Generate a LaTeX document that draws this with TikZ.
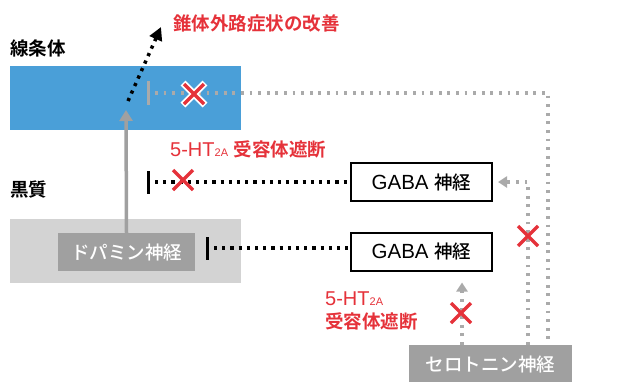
\documentclass[tikz,border=0pt]{standalone}
\usepackage{fontspec}
\setmainfont{Liberation Sans}
\newfontfamily\cjk{Noto Sans CJK JP}
\newfontfamily\cjkm{Noto Sans CJK JP Medium}
\newfontfamily\cjkb{Noto Sans CJK JP Bold}
\usetikzlibrary{arrows.meta}
\definecolor{striblue}{HTML}{4A9FD8}
\definecolor{snlgray}{HTML}{D3D3D3}
\definecolor{boxgray}{HTML}{A0A0A0}
\definecolor{dotgray}{HTML}{AAAAAA}
\definecolor{xred}{HTML}{E5323A}
\begin{document}
\begin{tikzpicture}[x=1pt,y=-1pt,
  region/.style={anchor=west, inner sep=0pt, font=\cjkb\fontsize{18.5}{20}\selectfont},
  redlabel/.style={anchor=west, inner sep=0pt, text=xred, align=left, font=\fontsize{18.5}{22.5}\selectfont},
  graybox/.style={fill=boxgray, text=white, inner sep=0pt, minimum height=38pt, font=\cjkm\fontsize{18.5}{20}\selectfont},
  gababox/.style={draw=black, line width=2pt, fill=white, minimum width=141pt, minimum height=38pt, inner sep=0pt},
  bdot/.style={line width=3.5pt, dash pattern=on 3.2pt off 5pt, black},
  gdot/.style={line width=3.5pt, dash pattern=on 2.8pt off 5.8pt, dotgray},
  blockbar/.style={line width=3pt},
  xmark/.pic={\draw[xred, line width=3.5pt] (-10,-10) -- (10,10) (-10,10) -- (10,-10);},
  xmarkw/.pic={\draw[white, line width=7pt] (-11,-11) -- (11,11) (-11,11) -- (11,-11);
               \draw[xred, line width=3.5pt] (-10,-10) -- (10,10) (-10,10) -- (10,-10);},
]
\useasboundingbox (0,0) rectangle (629,381);
% regions
\fill[striblue] (10,66) rectangle (241,130);
\fill[snlgray] (10,219) rectangle (241,283);
\node[region] (striatum) at (10,48) {線条体};
\node[region] (sn) at (10,190) {黒質};

% boxes
\node[graybox, minimum width=137pt] (da) at (126.5,252) {ドパミン神経};
\node[gababox] (g1) at (421.5,182) {\fontsize{20.5}{22}\selectfont GABA {\cjkm\fontsize{18.5}{20}\selectfont 神経}};
\node[gababox] (g2) at (421.5,251.5) {\fontsize{20.5}{22}\selectfont GABA {\cjkm\fontsize{18.5}{20}\selectfont 神経}};
\node[graybox, minimum width=163pt] (sero) at (490.5,364) {セロトニン神経};

% labels
\node[redlabel] (eps) at (173,23) {\cjkb 錐体外路症状の改善};
\node[redlabel] (blk1) at (170,149) {\fontsize{20}{22}\selectfont 5-HT{\fontsize{11}{12}\selectfont 2A} {\cjkb\fontsize{18.5}{20}\selectfont 受容体遮断}};
\node[redlabel] (blk2) at (325,311) {{\fontsize{20}{22}\selectfont 5-HT{\fontsize{11}{12}\selectfont 2A}}\\{\cjkb 受容体遮断}};

% coordinates
\coordinate (datip) at (126,110);
\coordinate (epsstart) at (128,101);
\coordinate (epstip) at (161,27);
\coordinate (gbar) at (148,93);
\coordinate (gstart) at (155,93);
\coordinate (outer) at (548,93);
\coordinate (inner) at (528,182);
\coordinate (g2in) at (462,300);
\coordinate (bar1) at (148,182);
\coordinate (b1start) at (155,182);
\coordinate (bar2) at (207,248);
\coordinate (b2start) at (214,248);

% dopamine projection
\draw[boxgray, line width=3.5pt, -{Triangle[length=11pt,width=13pt]}] (da.north) -- (datip);
\draw[bdot, -{Triangle[length=13pt,width=13pt]}] (epsstart) -- (epstip);

% serotonin to striatum
\draw[gdot] (gstart) -- (outer) -- (outer |- sero.north);
\draw[dotgray, blockbar] ([yshift=-12pt]gbar) -- ([yshift=12pt]gbar);
\pic at (194,94) {xmarkw};

% GABA 1 to SN
\draw[bdot] (b1start) -- (g1.west);
\draw[blockbar] ([yshift=-11.5pt]bar1) -- ([yshift=11.5pt]bar1);
\pic at (183,180) {xmark};

% GABA 2 to dopamine
\draw[bdot] (b2start) -- (b2start -| g2.west);
\draw[blockbar] ([yshift=-11.5pt]bar2) -- ([yshift=11.5pt]bar2);

% serotonin to GABA
\draw[gdot, shorten >=5pt, -{Triangle[length=9pt,width=11pt]}] (inner |- sero.north) -- (inner) -- (g1.east);
\pic at (528,236) {xmark};
\draw[gdot, shorten >=11pt, -{Triangle[length=9pt,width=11pt]}] (g2in |- sero.north) -- (g2in |- g2.south);
\pic at (461,313) {xmark};
\end{tikzpicture}
\end{document}
